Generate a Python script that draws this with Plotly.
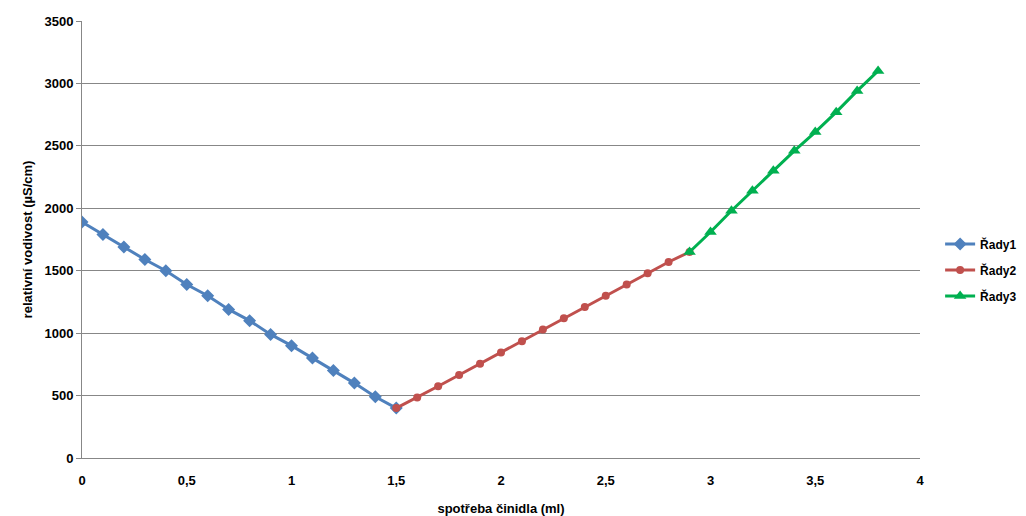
import plotly.graph_objects as go

# titration: relative conductivity vs. consumed reagent volume
x1 = [0.0, 0.1, 0.2, 0.3, 0.4, 0.5, 0.6, 0.7, 0.8, 0.9, 1.0, 1.1, 1.2, 1.3, 1.4, 1.5]
y1 = [1890, 1790, 1690, 1590, 1500, 1390, 1300, 1190, 1100, 990, 900, 800, 700, 600, 490, 400]

x2 = [1.5, 1.6, 1.7, 1.8, 1.9, 2.0, 2.1, 2.2, 2.3, 2.4, 2.5, 2.6, 2.7, 2.8, 2.9]
y2 = [400, 485, 575, 665, 755, 845, 935, 1030, 1120, 1210, 1300, 1390, 1480, 1570, 1650]

x3 = [2.9, 3.0, 3.1, 3.2, 3.3, 3.4, 3.5, 3.6, 3.7, 3.8]
y3 = [1650, 1810, 1980, 2140, 2300, 2460, 2610, 2770, 2940, 3100]

names = ["Řady1", "Řady2", "Řady3"]
x_ticks = [0, 0.5, 1, 1.5, 2, 2.5, 3, 3.5, 4]
y_ticks = [0, 500, 1000, 1500, 2000, 2500, 3000, 3500]

FONT = "Liberation Sans"
GRID = "#878787"

fig = go.Figure()
fig.add_trace(go.Scatter(x=x1, y=y1, name=names[0], legendgroup="a", mode="lines+markers",
                         line=dict(color="#4F81BD", width=3),
                         marker=dict(symbol="diamond", size=10, color="#4F81BD")))
fig.add_trace(go.Scatter(x=x2, y=y2, name=names[1], legendgroup="b", mode="lines+markers",
                         line=dict(color="#C0504D", width=3),
                         marker=dict(symbol="circle", size=8, color="#C0504D")))
fig.add_trace(go.Scatter(x=x3, y=y3, name=names[2], legendgroup="c", mode="lines+markers",
                         line=dict(color="#00B050", width=3),
                         marker=dict(symbol="triangle-up", size=11, color="#00B050")))

fig.update_layout(
    width=1026, height=516,
    margin=dict(l=82, r=106, t=21, b=58, autoexpand=False),
    paper_bgcolor="white", plot_bgcolor="white",
    separators=", ",
    font=dict(family=FONT, size=13, color="black", weight="bold"),
    legend=dict(x=1.024, y=0.43, xanchor="left", yanchor="middle",
                font=dict(family=FONT, size=12, weight="bold"),
                tracegroupgap=7, itemwidth=30),
    xaxis=dict(range=[0, 4], tickvals=x_ticks, showgrid=False,
               showline=True, linecolor=GRID, linewidth=1,
               ticks="", zeroline=False, ticklabelstandoff=10,
               title=dict(text="spotřeba činidla (ml)", standoff=22,
                          font=dict(family=FONT, size=13, weight="bold"))),
    yaxis=dict(range=[0, 3500], tickvals=y_ticks, showgrid=True,
               gridcolor=GRID, gridwidth=1,
               showline=True, linecolor=GRID, linewidth=1,
               ticks="outside", ticklen=5, tickcolor=GRID, zeroline=False,
               title=dict(text="relativní vodivost (µS/cm)", standoff=8,
                          font=dict(family=FONT, size=13, weight="bold"))),
)

fig.write_html("out.html")
